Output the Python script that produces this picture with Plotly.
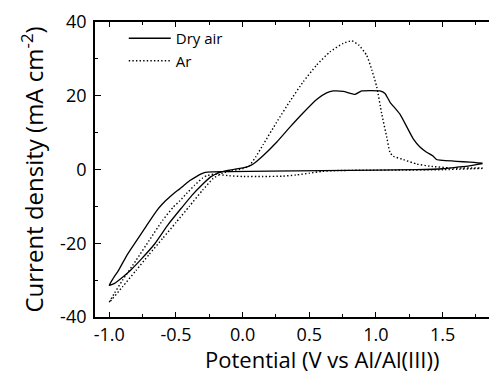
import plotly.graph_objects as go

# Dry air CV loop (cathodic scan from 1.8 V to -1.0 V, then anodic back to 1.8 V)
dry_air_potential = [1.80, 1.70, 1.60, 1.50, 1.30, 1.00, 0.60, 0.20, -0.10, -0.22, -0.28,
                     -0.31, -0.35, -0.395, -0.43, -0.47, -0.51, -0.545, -0.60, -0.645,
                     -0.72, -0.795, -0.87, -0.933, -0.97, -1.00,
                     -0.96, -0.90, -0.84, -0.76, -0.66, -0.56, -0.46, -0.38, -0.30, -0.24,
                     -0.18, -0.10, -0.02, 0.04, 0.08, 0.155, 0.255, 0.355, 0.455, 0.555,
                     0.63, 0.68, 0.755, 0.843, 0.893, 0.96, 1.03, 1.068, 1.105, 1.18, 1.28,
                     1.33, 1.38, 1.43, 1.455, 1.505, 1.605, 1.705, 1.80]
dry_air_current = [1.6, 1.0, 0.6, 0.2, -0.05, -0.15, -0.3, -0.45, -0.55, -0.65, -0.75,
                   -1.2, -2.0, -3.0, -4.0, -5.2, -6.3, -7.4, -9.3, -11.2,
                   -15.2, -19.3, -23.4, -27.5, -29.5, -31.4,
                   -30.9, -29.2, -27.3, -24.3, -20.2, -15.0, -10.5, -7.0, -4.0, -2.0,
                   -0.9, -0.2, 0.3, 0.8, 1.5, 3.8, 7.4, 11.5, 15.4, 19.0,
                   20.8, 21.3, 21.2, 20.4, 21.3, 21.4, 21.3, 20.6, 18.3, 15.0, 8.3,
                   6.1, 4.7, 3.6, 2.7, 2.45, 2.2, 2.0, 1.7]

# Ar CV loop
ar_potential = [1.80, 1.50, 1.20, 0.90, 0.70, 0.60, 0.50, 0.40, 0.30, 0.15, 0.00, -0.10,
                -0.17, -0.22, -0.27, -0.30, -0.36, -0.42, -0.47, -0.52, -0.60, -0.70,
                -0.80, -0.90, -0.96, -1.00,
                -0.90, -0.80, -0.70, -0.60, -0.50, -0.40, -0.30, -0.22, -0.15, -0.08,
                0.00, 0.05, 0.10, 0.155, 0.255, 0.355, 0.455, 0.555, 0.655, 0.755,
                0.818, 0.87, 0.93, 0.97, 1.006, 1.043, 1.081, 1.105, 1.13, 1.205,
                1.305, 1.405, 1.555, 1.80]
ar_current = [0.3, -0.05, -0.15, -0.2, -0.3, -0.5, -1.0, -1.5, -1.8, -1.9, -1.9, -1.7,
              -1.4, -1.3, -1.7, -2.3, -4.3, -6.5, -8.5, -10.2, -13.8, -19.2,
              -24.7, -30.0, -33.5, -36.0,
              -31.8, -27.4, -23.0, -18.7, -14.4, -10.0, -5.6, -2.4, -1.0, -0.3,
              0.2, 1.0, 3.5, 6.8, 12.8, 18.5, 23.8, 28.3, 31.9, 34.2,
              34.9, 33.8, 31.0, 26.9, 22.4, 15.2, 8.8, 4.7, 3.6, 2.7,
              1.5, 0.9, 0.45, 0.4]

x_tickvals = [-1.0, -0.5, 0.0, 0.5, 1.0, 1.5]
x_ticktext = ["-1.0", "-0.5", "0.0", "0.5", "1.0", "1.5"]
y_tickvals = [-40, -20, 0, 20, 40]
y_ticktext = ["-40", "-20", "0", "20", "40"]

FONT = "Open Sans"

fig = go.Figure()
fig.add_trace(go.Scatter(x=dry_air_potential, y=dry_air_current, mode="lines",
                         name="Dry air",
                         line=dict(color="black", width=1.3, shape="spline", smoothing=0.5)))
fig.add_trace(go.Scatter(x=ar_potential, y=ar_current, mode="lines", name="Ar",
                         line=dict(color="black", width=1.4, dash="1.4px,2.2px",
                                   shape="spline", smoothing=0.5)))

fig.update_layout(
    width=489, height=374,
    margin=dict(l=95, r=0, t=22, b=57),
    paper_bgcolor="white", plot_bgcolor="white",
    font=dict(family=FONT, color="black"),
    showlegend=True,
    legend=dict(x=0.073, y=1.0, xanchor="left", yanchor="top",
                font=dict(family=FONT, size=15, color="black"),
                bgcolor="rgba(0,0,0,0)", itemwidth=42, tracegroupgap=0),
    xaxis=dict(range=[-1.107, 1.848], showgrid=False, zeroline=False,
               showline=True, linecolor="black", linewidth=1.8, mirror="ticks",
               ticks="inside", ticklen=5, tickwidth=1.3, tickcolor="black",
               tickvals=x_tickvals, ticktext=x_ticktext,
               tickfont=dict(family=FONT, size=18),
               minor=dict(dtick=0.25, ticks="inside", ticklen=3, tickwidth=1, tickcolor="black")),
    yaxis=dict(range=[-40, 40], showgrid=False, zeroline=False,
               showline=True, linecolor="black", linewidth=1.8, mirror=False,
               ticks="inside", ticklen=6, tickwidth=1.3, tickcolor="black",
               tickvals=y_tickvals, ticktext=y_ticktext, ticklabelstandoff=3,
               tickfont=dict(family=FONT, size=18),
               minor=dict(dtick=10, ticks="inside", ticklen=3, tickwidth=1, tickcolor="black"),
               title=dict(text="Current density (mA cm<sup>-2</sup>)",
                          font=dict(family=FONT, size=24), standoff=10)),
    annotations=[dict(text="Potential (V vs Al/Al(III))", xref="paper", yref="paper",
                      x=0.576, y=-0.1424, xanchor="center", yanchor="middle",
                      showarrow=False, font=dict(family=FONT, size=22, color="black"))],
)

fig.write_html("out.html", config={"displayModeBar": False},
               post_script="document.body.style.margin='0';")
